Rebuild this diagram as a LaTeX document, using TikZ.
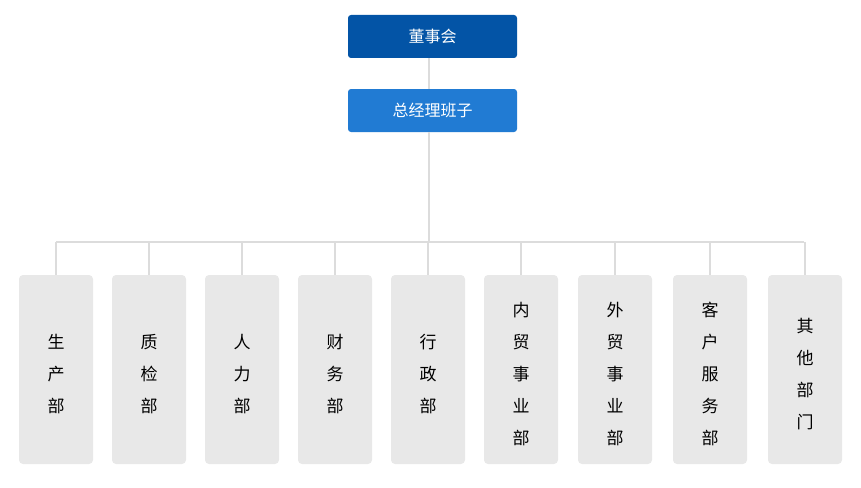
\documentclass[tikz,border=0pt]{standalone}
\usepackage{fontspec}
\setmainfont{Noto Sans CJK SC}
\definecolor{topblue}{HTML}{0354A6}
\definecolor{midblue}{HTML}{217BD3}
\definecolor{deptgray}{HTML}{E8E8E8}
\definecolor{linegray}{HTML}{DCDCDC}
\begin{document}
\begin{tikzpicture}[x=1pt,y=-1pt,
  headbox/.style={rounded corners=3pt, minimum width=169pt, minimum height=43pt, inner sep=0pt, text=white, font=\fontsize{16}{18}\selectfont},
  deptbox/.style={fill=deptgray, rounded corners=4pt, minimum width=74pt, minimum height=189pt, inner sep=0pt},
  depttext/.style={align=center, text=black, font=\fontsize{17}{32}\selectfont, inner sep=0pt},
  conn/.style={draw=linegray, line width=2pt}]
\useasboundingbox (0,0) rectangle (861,487);
\node[headbox, fill=topblue] (board) at (432.5,36.5) {董事会};
\node[headbox, fill=midblue] (gm) at (432.5,110.5) {总经理班子};
\coordinate (bus) at (429,242);
\coordinate (busL) at (56,242);
\coordinate (busR) at (804,242);
\foreach \i/\x/\t in {1/56/{生\\产\\部}, 2/149/{质\\检\\部}, 3/242/{人\\力\\部}, 4/335/{财\\务\\部}, 5/428/{行\\政\\部}, 6/521/{内\\贸\\事\\业\\部}, 7/615/{外\\贸\\事\\业\\部}, 8/710/{客\\户\\服\\务\\部}, 9/805/{其\\他\\部\\门}} {
  \node[deptbox] (d\i) at (\x,369.5) {};
  \node[depttext] (t\i) at (\x,374) {\t};
}
\draw[conn] (board.south -| bus) -- (gm.north -| bus);
\draw[conn] (gm.south -| bus) -- (bus);
\draw[conn] (busL) -- (busR);
\foreach \i in {1,...,9} {
  \draw[conn] (d\i.north) -- (d\i.north |- bus);
}
\end{tikzpicture}
\end{document}
